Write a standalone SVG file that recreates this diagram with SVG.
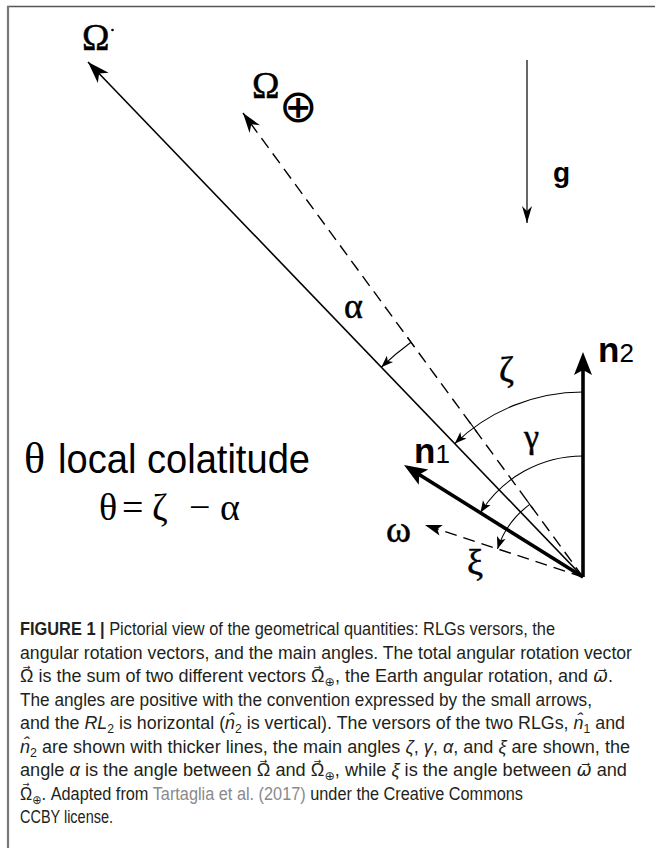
<svg xmlns="http://www.w3.org/2000/svg" width="655" height="848" viewBox="0 0 655 848">
<style>
.vec{stroke:#000;fill:none}
.thin{stroke-width:1.6}
.thick{stroke-width:3.6}
.dash{stroke-width:1.4;stroke-dasharray:12 7}
.arc{stroke:#000;stroke-width:1.1;fill:none}
.serif{font-family:"Liberation Serif","DejaVu Serif",serif;fill:#000}
.greek{stroke:#000;stroke-width:0.5}
.sans{font-family:"Liberation Sans",Arial,sans-serif;fill:#000}
.cap{font-family:"Liberation Sans","DejaVu Sans",sans-serif;font-size:17.5px;fill:#231f20}
.ar{font-family:"DejaVu Sans",sans-serif;font-size:9px}
.link{fill:#8a8a8a}
</style>
<defs>
<marker id="hBig" markerUnits="userSpaceOnUse" orient="auto" overflow="visible" markerWidth="1" markerHeight="1"><path d="M6,0 L-17,-9 L-12,0 L-17,9 Z" fill="#000"/></marker>
<marker id="hOm" markerUnits="userSpaceOnUse" orient="auto" overflow="visible" markerWidth="1" markerHeight="1"><path d="M0,0 L-22,-7.5 L-16,0 L-22,7.5 Z" fill="#000"/></marker>
<marker id="hOe" markerUnits="userSpaceOnUse" orient="auto" overflow="visible" markerWidth="1" markerHeight="1"><path d="M0,0 L-20,-6.5 L-14,0 L-20,6.5 Z" fill="#000"/></marker>
<marker id="hG" markerUnits="userSpaceOnUse" orient="auto" overflow="visible" markerWidth="1" markerHeight="1"><path d="M0,0 L-17,-5 L-12,0 L-17,5 Z" fill="#000"/></marker>
<marker id="hW" markerUnits="userSpaceOnUse" orient="auto" overflow="visible" markerWidth="1" markerHeight="1"><path d="M0,0 L-17,-5.5 L-13,0 L-17,5.5 Z" fill="#000"/></marker>
<marker id="hS" markerUnits="userSpaceOnUse" orient="auto" overflow="visible" markerWidth="1" markerHeight="1"><path d="M0,0 L-12,-4.5 L-9,0 L-12,4.5 Z" fill="#000"/></marker>
</defs>
<rect width="655" height="848" fill="#fff"/>
<g id="frame">
<line x1="7" y1="6.5" x2="655" y2="6.5" stroke="#555" stroke-width="1.6"/>
<line x1="8" y1="6" x2="8" y2="848" stroke="#777" stroke-width="2.2"/>
</g>
<g id="connectors">
<line class="vec thin" x1="583" y1="577" x2="88" y2="62" marker-end="url(#hOm)"/>
<line class="vec dash" x1="583" y1="577" x2="243" y2="113" marker-end="url(#hOe)"/>
<line class="vec dash" x1="583" y1="577" x2="425" y2="525" marker-end="url(#hW)"/>
<line class="vec thick" x1="583" y1="577" x2="583" y2="358" marker-end="url(#hBig)"/>
<line class="vec thick" x1="583" y1="577" x2="409.1" y2="468.2" marker-end="url(#hBig)"/>
<line class="vec" stroke-width="1.2" x1="527" y1="60" x2="527" y2="223" marker-end="url(#hG)"/>
<path class="arc" d="M411,342.2 A291,291 0 0 0 381.3,367.2" marker-end="url(#hS)"/>
<line class="arc" x1="407.5" y1="337.4" x2="414.5" y2="347"/>
<path class="arc" d="M583,392 A185,185 0 0 0 454.8,443.6" marker-end="url(#hS)"/>
<line class="arc" x1="470.2" y1="422.9" x2="477.2" y2="432.5"/>
<path class="arc" d="M583,456 A121,121 0 0 0 480.4,512.7" marker-end="url(#hS)"/>
<path class="arc" d="M529.8,504.4 A90,90 0 0 0 497.5,548.9" marker-end="url(#hS)"/>
<line class="arc" x1="526.3" y1="499.6" x2="533.3" y2="509.2"/>
</g>
<g id="Omega">
<text class="serif greek" x="82" y="50" font-size="37">Ω</text>
<circle cx="112.5" cy="30" r="1.3" fill="#000"/>
</g>
<g id="OmegaEarth">
<text class="serif greek" x="252" y="98" font-size="37">Ω</text>
<text x="279" y="121.5" font-family="DejaVu Sans, sans-serif" font-size="46" fill="#000">⊕</text>
</g>
<g id="g">
<text class="sans" x="553" y="182" font-size="28" font-weight="bold">g</text>
</g>
<g id="n2">
<text class="sans" x="598" y="362" font-size="35" font-weight="bold">n<tspan font-size="26" font-weight="normal">2</tspan></text>
</g>
<g id="n1">
<text class="sans" x="414" y="463" font-size="35" font-weight="bold">n<tspan font-size="26" font-weight="normal">1</tspan></text>
</g>
<g id="labels">
<text class="serif greek" x="344" y="318" font-size="36">α</text>
<text class="serif greek" x="499" y="382" font-size="36">ζ</text>
<text class="serif greek" x="524" y="448" font-size="34">γ</text>
<text class="serif greek" x="386" y="542" font-size="38">ω</text>
<text class="serif greek" x="467" y="574" font-size="36">ξ</text>
</g>
<g id="colatitude">
<text class="serif" x="24" y="473" font-size="44">θ</text>
<text class="sans" x="58" y="473" font-size="40" textLength="252" lengthAdjust="spacingAndGlyphs">local colatitude</text>
<text class="serif" y="520" font-size="38"><tspan x="99">θ</tspan><tspan x="122">=</tspan><tspan x="152">ζ</tspan><tspan x="189">−</tspan><tspan x="220">α</tspan></text>
</g>
<g id="caption">
<text class="cap" x="20" y="635" textLength="535" lengthAdjust="spacingAndGlyphs"><tspan font-weight="bold">FIGURE 1 |</tspan> Pictorial view of the geometrical quantities: RLGs versors, the</text>
<text class="cap" x="20" y="658.5" textLength="612" lengthAdjust="spacingAndGlyphs">angular rotation vectors, and the main angles. The total angular rotation vector</text>
<text class="cap" x="20" y="682" textLength="593" lengthAdjust="spacingAndGlyphs">Ω<tspan class="ar" dx="-10.4" dy="-12.5">→</tspan><tspan dx="2.9" dy="12.5"> is the sum of two different vectors Ω</tspan><tspan class="ar" dx="-10.4" dy="-12.5">→</tspan><tspan font-size="12" dx="2.9" dy="12.5" baseline-shift="-4">⊕</tspan>, the Earth angular rotation, and <tspan font-style="italic">ω⃗</tspan>.</text>
<text class="cap" x="20" y="705.5" textLength="572" lengthAdjust="spacingAndGlyphs">The angles are positive with the convention expressed by the small arrows,</text>
<text class="cap" x="20" y="729" textLength="605" lengthAdjust="spacingAndGlyphs">and the <tspan font-style="italic">RL</tspan><tspan font-size="12" baseline-shift="-4">2</tspan> is horizontal (<tspan font-style="italic">n̂</tspan><tspan font-size="12" baseline-shift="-4">2</tspan> is vertical). The versors of the two RLGs, <tspan font-style="italic">n̂</tspan><tspan font-size="12" baseline-shift="-4">1</tspan> and</text>
<text class="cap" x="20" y="752.5" textLength="610" lengthAdjust="spacingAndGlyphs"><tspan font-style="italic">n̂</tspan><tspan font-size="12" baseline-shift="-4">2</tspan> are shown with thicker lines, the main angles <tspan font-style="italic">ζ</tspan>, <tspan font-style="italic">γ</tspan>, <tspan font-style="italic">α</tspan>, and <tspan font-style="italic">ξ</tspan> are shown, the</text>
<text class="cap" x="20" y="776" textLength="607" lengthAdjust="spacingAndGlyphs">angle <tspan font-style="italic">α</tspan> is the angle between Ω<tspan class="ar" dx="-10.4" dy="-12.5">→</tspan><tspan dx="2.9" dy="12.5"> and Ω</tspan><tspan class="ar" dx="-10.4" dy="-12.5">→</tspan><tspan font-size="12" dx="2.9" dy="12.5" baseline-shift="-4">⊕</tspan>, while <tspan font-style="italic">ξ</tspan> is the angle between <tspan font-style="italic">ω⃗</tspan> and</text>
<text class="cap" x="20" y="799.5" textLength="503" lengthAdjust="spacingAndGlyphs">Ω<tspan class="ar" dx="-10.4" dy="-12.5">→</tspan><tspan font-size="12" dx="2.9" dy="12.5" baseline-shift="-4">⊕</tspan>. Adapted from <tspan class="link">Tartaglia et al. (2017)</tspan> under the Creative Commons</text>
<text class="cap" x="20" y="823" textLength="93" lengthAdjust="spacingAndGlyphs">CCBY license.</text>
</g>
</svg>
